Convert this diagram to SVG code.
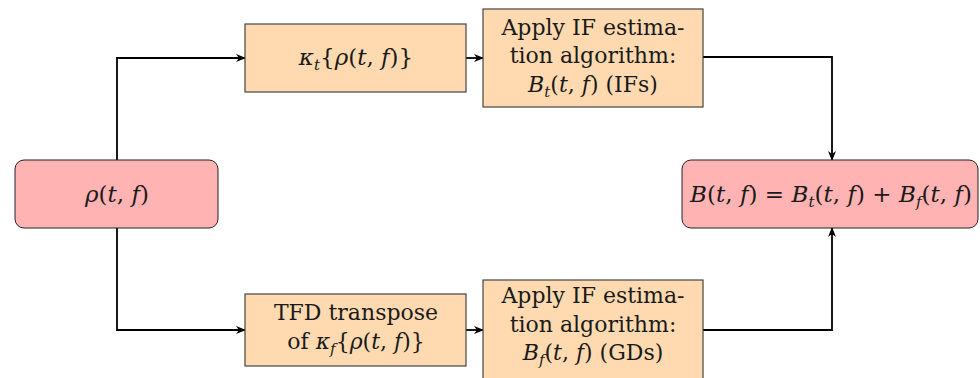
<svg xmlns="http://www.w3.org/2000/svg" width="980" height="378" viewBox="0 0 980 378">
<style>
text{font-family:"DejaVu Serif","Liberation Serif",serif;font-size:22px;fill:#1a1a1a;text-anchor:middle}
.m{font-size:23px}
.i{font-style:italic}
.s{font-size:15px;font-style:italic}
.pk{fill:#ffb3b3;stroke:#222;stroke-width:1}
.or{fill:#ffdab0;stroke:#444;stroke-width:1.2}
.c{fill:none;stroke:#000;stroke-width:1.8;marker-end:url(#ah)}
</style>
<defs>
<marker id="ah" viewBox="0 0 10 10" refX="9" refY="5" markerWidth="10" markerHeight="10" markerUnits="userSpaceOnUse" orient="auto">
<path d="M0,1 L10,5 L0,9 L3,5 Z" fill="#000"/>
</marker>
</defs>
<g id="connectors">
<path class="c" d="M117,160 V58 H245"/>
<path class="c" d="M117,228 V330 H245"/>
<path class="c" d="M466,58 H483"/>
<path class="c" d="M466,330 H483"/>
<path class="c" d="M703,57 H832 V160"/>
<path class="c" d="M703,330 H832 V228"/>
</g>
<g id="rho">
<rect class="pk" x="15" y="160" width="203" height="68" rx="9"/>
<text class="m" x="117" y="202"><tspan class="i">ρ</tspan>(<tspan class="i">t</tspan>, <tspan class="i">f</tspan>)</text>
</g>
<g id="kappa-t">
<rect class="or" x="245" y="24" width="221" height="68"/>
<text class="m" x="356" y="65"><tspan class="i">κ</tspan><tspan class="s" dy="5">t</tspan><tspan dy="-5">{</tspan><tspan class="i">ρ</tspan>(<tspan class="i">t</tspan>, <tspan class="i">f</tspan>)}</text>
</g>
<g id="tfd-transpose">
<rect class="or" x="245" y="294" width="221" height="72"/>
<text x="356" y="320">TFD transpose</text>
<text x="356" y="349">of <tspan class="i">κ</tspan><tspan class="s" dy="5">f</tspan><tspan dy="-5">{</tspan><tspan class="i">ρ</tspan>(<tspan class="i">t</tspan>, <tspan class="i">f</tspan>)}</text>
</g>
<g id="if-top">
<rect class="or" x="483" y="9" width="220" height="98"/>
<text x="593" y="35">Apply IF estima-</text>
<text x="593" y="63">tion algorithm:</text>
<text x="593" y="92"><tspan class="i">B</tspan><tspan class="s" dy="5">t</tspan><tspan dy="-5">(</tspan><tspan class="i">t</tspan>, <tspan class="i">f</tspan>) (IFs)</text>
</g>
<g id="if-bottom">
<rect class="or" x="483" y="280" width="220" height="110"/>
<text x="593" y="303">Apply IF estima-</text>
<text x="593" y="332">tion algorithm:</text>
<text x="593" y="360"><tspan class="i">B</tspan><tspan class="s" dy="5">f</tspan><tspan dy="-5">(</tspan><tspan class="i">t</tspan>, <tspan class="i">f</tspan>) (GDs)</text>
</g>
<g id="sum">
<rect class="pk" x="682" y="160" width="296" height="68" rx="9"/>
<text class="m" x="831" y="202" textLength="282" lengthAdjust="spacing"><tspan class="i">B</tspan>(<tspan class="i">t</tspan>, <tspan class="i">f</tspan>) = <tspan class="i">B</tspan><tspan class="s" dy="5">t</tspan><tspan dy="-5">(</tspan><tspan class="i">t</tspan>, <tspan class="i">f</tspan>) + <tspan class="i">B</tspan><tspan class="s" dy="5">f</tspan><tspan dy="-5">(</tspan><tspan class="i">t</tspan>, <tspan class="i">f</tspan>)</text>
</g>
</svg>
